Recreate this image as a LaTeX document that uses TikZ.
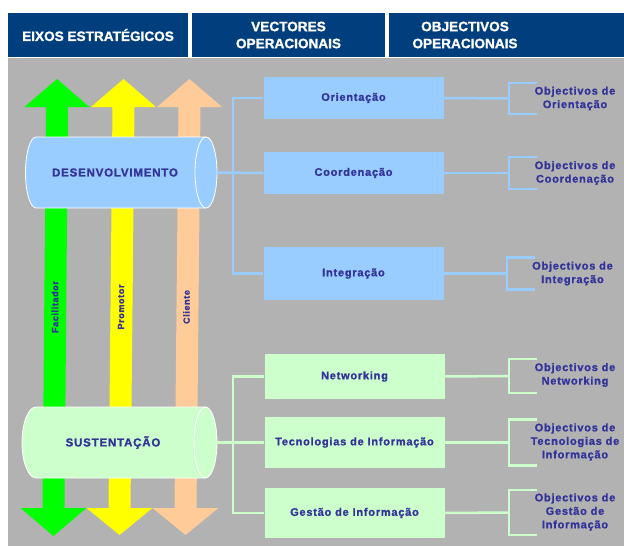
\documentclass[tikz,border=0pt]{standalone}
\usepackage{fontspec}
\setmainfont{Liberation Sans}
\newfontfamily\lsp{Liberation Sans Bold}[LetterSpace=7,FakeBold=1.2]
\newfontfamily\hdrfont{Liberation Sans Bold}[FakeBold=1.2]
\definecolor{hdrblue}{RGB}{0,62,126}
\definecolor{bggray}{RGB}{178,178,178}
\definecolor{txtblue}{RGB}{51,51,153}
\definecolor{ltblue}{RGB}{153,204,255}
\definecolor{ltgreen}{RGB}{204,255,204}
\definecolor{argreen}{RGB}{0,255,0}
\definecolor{aryellow}{RGB}{255,255,0}
\definecolor{arpeach}{RGB}{255,204,153}
\newcommand\dblarrow[5]{%
  \fill[#1] (#2,#4) -- (#2+32.5,107) -- (#2+11,107) -- (#3+11,508) -- (#3+33,508)
    -- (#3,#5) -- (#3-33,508) -- (#3-11,508) -- (#2-11,107) -- (#2-32.5,107) -- cycle;}
\newcommand\objbracket[3]{%
  \draw[#3] (#1) ++(28,-#2) -- ++(-28,0) -- ++(0,2*#2) -- ++(28,0);}
\begin{document}
\begin{tikzpicture}[x=1pt,y=-1pt,
  hdr/.style={fill=hdrblue, text=white, font=\hdrfont\fontsize{13.6}{17}\selectfont,
    align=center, inner sep=0pt, minimum height=44pt},
  vbox/.style={minimum width=180pt, inner sep=0pt, text=txtblue,
    font=\lsp\fontsize{11}{13}\selectfont},
  objtext/.style={text=txtblue, align=center, inner sep=0pt,
    font=\lsp\fontsize{11}{13.5}\selectfont},
  cyltext/.style={text=txtblue, inner sep=0pt, font=\lsp\fontsize{11.5}{13}\selectfont},
  rottext/.style={text=txtblue, inner sep=0pt, rotate=90, font=\lsp\fontsize{9}{11}\selectfont},
  bl/.style={draw=ltblue, line width=2.5pt},
  gl/.style={draw=ltgreen, line width=2.5pt}]
\useasboundingbox (0,0) rectangle (624,546);
\fill[white] (0,0) rectangle (624,546);
% headers
\node[hdr, minimum width=180pt] (h1) at (98,35) {EIXOS ESTRATÉGICOS};
\node[hdr, minimum width=193pt] (h2) at (288.5,35) {VECTORES\\OPERACIONAIS};
\node[hdr, minimum width=235pt] (h3) at (506.5,35) {};
\node[text=white, font=\hdrfont\fontsize{13.6}{17}\selectfont, align=center, inner sep=0pt] (h3t) at (465,35) {OBJECTIVOS\\OPERACIONAIS};
% background
\fill[bggray] (8,58) rectangle (624,546);
% arrows
\dblarrow{argreen}{57}{53.5}{79}{536}
\dblarrow{aryellow}{123.5}{119.5}{79}{535}
\dblarrow{arpeach}{189.5}{185.5}{79}{535}
\node[rottext] (fac) at (55,307) {Facilitador};
\node[rottext] (pro) at (121,307) {Promotor};
\node[rottext] (cli) at (186.5,307) {Cliente};
% cylinder DESENVOLVIMENTO
\draw[white, line width=0.8pt, fill=ltblue] (36,137) -- (206,137)
  arc[start angle=-90, end angle=90, x radius=11, y radius=35.5] -- (36,208)
  arc[start angle=90, end angle=270, x radius=10.5, y radius=35.5] -- cycle;
\draw[white, line width=0.8pt] (206,137) arc[start angle=270, end angle=90, x radius=11, y radius=35.5];
\node[minimum width=191pt, minimum height=71pt, inner sep=0pt] (desenv) at (121.5,172.5) {};
\node[cyltext] (desenvt) at (115,172.5) {DESENVOLVIMENTO};
% cylinder SUSTENTACAO
\draw[white, line width=0.8pt, fill=ltgreen] (36,407) -- (205.5,407)
  arc[start angle=-90, end angle=90, x radius=11.5, y radius=35.5] -- (36,478)
  arc[start angle=90, end angle=270, x radius=14, y radius=35.5] -- cycle;
\draw[white, line width=0.8pt] (205.5,407) arc[start angle=270, end angle=90, x radius=11.5, y radius=35.5];
\node[minimum width=195pt, minimum height=71pt, inner sep=0pt] (sust) at (119.5,442.5) {};
\node[cyltext] (sustt) at (113,442.5) {SUSTENTAÇÃO};
% vector boxes
\node[vbox, fill=ltblue, minimum height=42pt] (orient) at (353.5,98) {Orientação};
\node[vbox, fill=ltblue, minimum height=42pt] (coord) at (353.5,173) {Coordenação};
\node[vbox, fill=ltblue, minimum height=53pt] (integ) at (353.5,273.5) {Integração};
\node[vbox, fill=ltgreen, minimum height=45pt] (netw) at (354.5,376.5) {Networking};
\node[vbox, fill=ltgreen, minimum height=51pt] (tecn) at (354.5,442.5) {Tecnologias de Informação};
\node[vbox, fill=ltgreen, minimum height=50pt] (gest) at (354.5,513) {Gestão de Informação};
% left connectors
\coordinate (bt) at (233,273.5);
\coordinate (gt) at (233,513);
\draw[bl] (desenv.east) -- (coord.west);
\draw[bl] (orient.west) -| (bt) -- (integ.west);
\draw[gl] (sust.east) -- (tecn.west);
\draw[gl] (netw.west) -| (gt) -- (gest.west);
% objective texts
\node[objtext] (o1) at (575,98.5) {Objectivos de\\Orientação};
\node[objtext] (o2) at (575,173) {Objectivos de\\Coordenação};
\node[objtext] (o3) at (572.5,273.5) {Objectivos de\\Integração};
\node[objtext] (o4) at (575,375) {Objectivos de\\Networking};
\node[objtext] (o5) at (575,442) {Objectivos de\\Tecnologias de\\Informação};
\node[objtext] (o6) at (575,512) {Objectivos de\\Gestão de\\Informação};
% right connectors
\coordinate (b1) at (509,98.5);
\coordinate (b2) at (509,173);
\coordinate (b3) at (507,273.5);
\coordinate (b4) at (509,376);
\coordinate (b5) at (509,442.5);
\coordinate (b6) at (509,512.5);
\draw[bl] (orient.east) -- (b1);
\draw[bl] (coord.east) -- (b2);
\draw[bl] (integ.east) -- (b3);
\draw[gl] (netw.east) -- (b4);
\draw[gl] (tecn.east) -- (b5);
\draw[gl] (gest.east) -- (b6);
\objbracket{b1}{15.5}{bl}
\objbracket{b2}{16}{bl}
\objbracket{b3}{16}{bl}
\objbracket{b4}{17}{gl}
\objbracket{b5}{23}{gl}
\objbracket{b6}{22.5}{gl}
\end{tikzpicture}
\end{document}
